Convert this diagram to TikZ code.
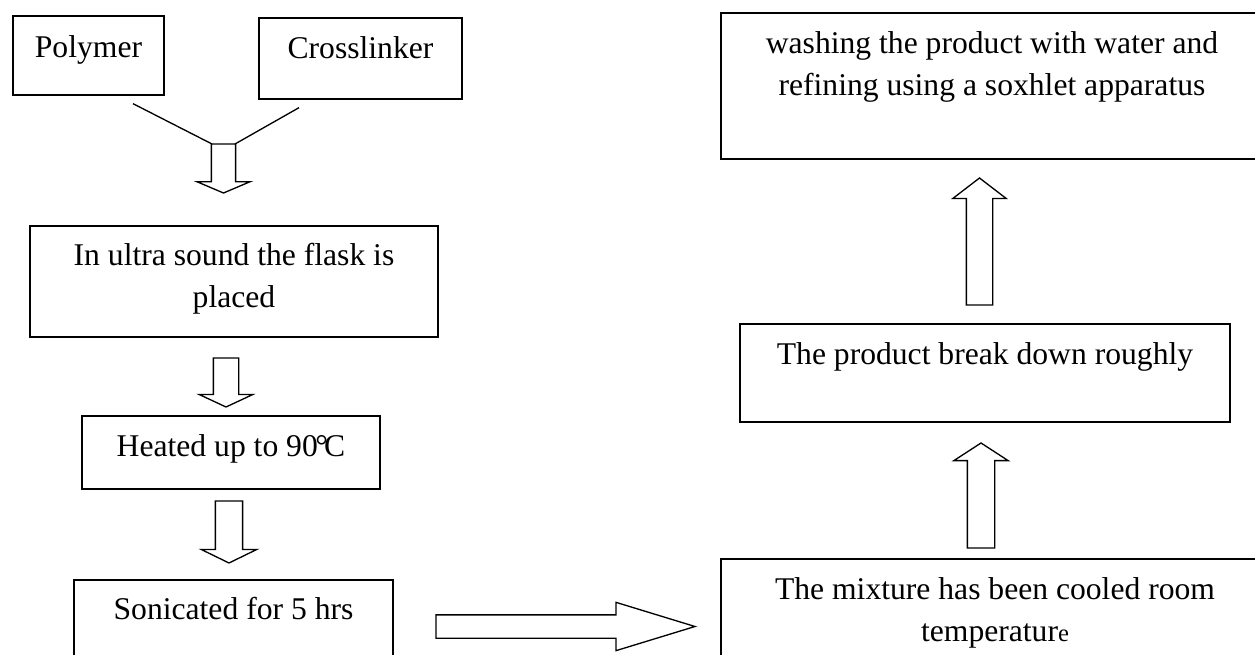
\documentclass[tikz,border=0pt]{standalone}
\usepackage{fontspec}
\setmainfont{Liberation Serif}
\usetikzlibrary{shapes.arrows}

\begin{document}
\begin{tikzpicture}[
    x=0.02cm, y=-0.02cm,
    box/.style={
        draw, line width=0.75pt, inner sep=0pt,
        align=center, font=\fontsize{18}{24}\selectfont
    },
    blockarr/.style={
        draw, line width=0.75pt, single arrow, single arrow head indent=0pt,
        inner xsep=0pt, outer sep=0pt, anchor=tip
    },
    link/.style={line width=0.75pt}
]
    \useasboundingbox (0,0) rectangle (1255,655);
    \clip (0,0) rectangle (1255,655);

    \node[box, minimum width=3.02cm, minimum height=1.58cm, text height=12pt, text depth=9.7pt]
        (poly) at (88.5,55.5) {Polymer};
    \node[box, minimum width=4.06cm, minimum height=1.62cm, text height=12pt, text depth=12.3pt]
        (cross) at (360.5,58.5) {Crosslinker};
    \node[box, minimum width=8.16cm, minimum height=2.22cm, text height=36pt, text depth=6.3pt]
        (ultra) at (234,281.5) {In ultra sound the flask is\\placed};
    \node[box, minimum width=5.96cm, minimum height=1.46cm, text height=12pt, text depth=8pt]
        (heat) at (231,452.5) {Heated up to 90\kern-0.08em°\kern-0.12em C};
    \node[box, minimum width=6.38cm, minimum height=2cm, text height=12pt, text depth=24pt]
        (soni) at (233.5,630) {Sonicated for 5 hrs};

    \node[box, minimum width=10.96cm, minimum height=2.42cm, text height=36pt, text depth=10.8pt]
        (cool) at (995,619.5) {The mixture has been cooled room\\temperatur{\fontsize{14}{14}\selectfont e}};
    \node[box, minimum width=9.8cm, minimum height=1.96cm, text height=12pt, text depth=21.6pt]
        (prod) at (985,373) {The product break down roughly};
    \node[box, minimum width=10.84cm, minimum height=2.92cm, text height=36pt, text depth=25pt]
        (wash) at (992,86) {washing the product with water and\\refining using a soxhlet apparatus};

    \node[blockarr, rotate=-90, inner ysep=0.23cm, single arrow head extend=0.29cm,
        minimum height=0.98cm, single arrow tip angle=134] (a1) at (223.5,193) {};
    \node[blockarr, rotate=-90, inner ysep=0.24cm, single arrow head extend=0.28cm,
        minimum height=0.98cm, single arrow tip angle=130] (a2) at (226,407) {};
    \node[blockarr, rotate=-90, inner ysep=0.26cm, single arrow head extend=0.28cm,
        minimum height=1.24cm, single arrow tip angle=128] (a3) at (229,563) {};
    \node[blockarr, inner ysep=0.22cm, single arrow head extend=0.25cm,
        minimum height=5.18cm, single arrow tip angle=34] (a4) at (695,626.5) {};
    \node[blockarr, rotate=90, inner ysep=0.26cm, single arrow head extend=0.27cm,
        minimum height=2.1cm, single arrow tip angle=114] (a5) at (981,443) {};
    \node[blockarr, rotate=90, inner ysep=0.25cm, single arrow head extend=0.27cm,
        minimum height=2.54cm, single arrow tip angle=105] (a6) at (979.5,178) {};

    \draw[link] ([xshift=0.89cm, yshift=-0.16cm]poly.south) -- ([xshift=-0.23cm]a1.tail);
    \draw[link] ([xshift=-1.23cm, yshift=-0.16cm]cross.south) -- ([xshift=0.23cm]a1.tail);
\end{tikzpicture}
\end{document}
